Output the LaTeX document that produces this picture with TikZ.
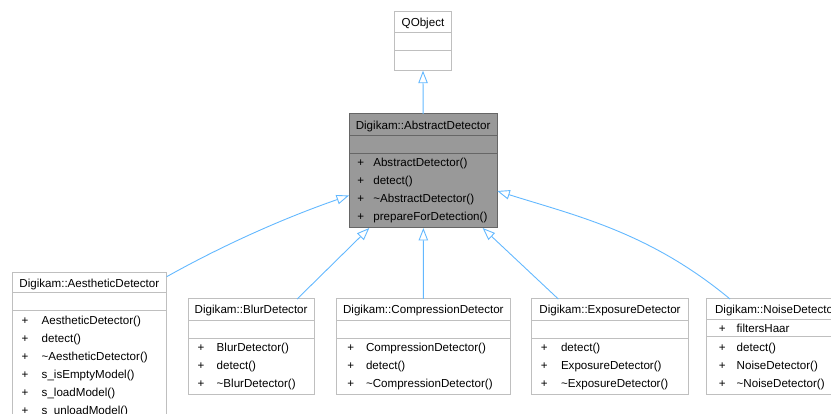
\documentclass[tikz,border=0pt]{standalone}
\usepackage{fontspec}
\setmainfont{Liberation Sans}
\usetikzlibrary{arrows.meta}
\definecolor{edgeblue}{HTML}{63B8FF}
\definecolor{boxborder}{HTML}{BFBFBF}
\definecolor{absfill}{HTML}{999999}
\definecolor{absborder}{HTML}{666666}
\tikzset{
  classbox/.style={draw=boxborder, line width=1pt, fill=white, inner sep=0pt, outer sep=0pt},
  absbox/.style={draw=absborder, line width=1pt, fill=absfill, inner sep=0pt, outer sep=0pt},
  sepline/.style={draw=boxborder, line width=1pt},
  abssep/.style={draw=absborder, line width=1pt},
  txt/.style={inner sep=0pt, outer sep=0pt, font=\fontsize{11.6}{14}\selectfont, text height=8.3pt, text depth=0pt},
  inherit/.style={draw=edgeblue, line width=0.9pt, -{Triangle[open, length=12.5pt, width=9.5pt]}}
}
\begin{document}
\begin{tikzpicture}[x=1pt, y=-1pt]
\useasboundingbox (0,0) rectangle (831,414);
\clip (0,0) rectangle (831,414);

% ---- QObject
\node[classbox, minimum width=57.4pt, minimum height=59pt] (qobj) at (423,41.2) {};
\draw[sepline] (qobj.west |- 0,32.7) -- (qobj.east |- 0,32.7);
\draw[sepline] (qobj.west |- 0,51) -- (qobj.east |- 0,51);
\node[txt] (qobjname) at (423,22.5) {QObject};

% ---- AbstractDetector
\node[absbox, minimum width=148.3pt, minimum height=114pt] (abs) at (423.15,171) {};
\draw[abssep] (abs.west |- 0,135.7) -- (abs.east |- 0,135.7);
\draw[abssep] (abs.west |- 0,154) -- (abs.east |- 0,154);
\node[txt] (absname) at (423.15,125) {Digikam::AbstractDetector};
\node[txt] (absp1) at (360.7,162.5) {+};
\node[txt, anchor=west] (absm1) at (373.3,162.5) {AbstractDetector()};
\node[txt] (absp2) at (360.7,180.5) {+};
\node[txt, anchor=west] (absm2) at (373.3,180.5) {detect()};
\node[txt] (absp3) at (360.7,198.5) {+};
\node[txt, anchor=west] (absm3) at (373.3,198.5) {\textasciitilde AbstractDetector()};
\node[txt] (absp4) at (360.7,216.5) {+};
\node[txt, anchor=west] (absm4) at (373.3,216.5) {prepareForDetection()};

% ---- AestheticDetector
\node[classbox, minimum width=154.7pt, minimum height=149.4pt] (aes) at (89.35,347) {};
\draw[sepline] (aes.west |- 0,292.3) -- (aes.east |- 0,292.3);
\draw[sepline] (aes.west |- 0,310.7) -- (aes.east |- 0,310.7);
\node[txt] (aesname) at (89.35,283) {Digikam::AestheticDetector};
\node[txt] (aesp1) at (25,320) {+};
\node[txt, anchor=west] (aesm1) at (41.7,320) {AestheticDetector()};
\node[txt] (aesp2) at (25,338) {+};
\node[txt, anchor=west] (aesm2) at (41.7,338) {detect()};
\node[txt] (aesp3) at (25,356) {+};
\node[txt, anchor=west] (aesm3) at (41.7,356) {\textasciitilde AestheticDetector()};
\node[txt] (aesp4) at (25,374) {+};
\node[txt, anchor=west] (aesm4) at (41.7,374) {s\_isEmptyModel()};
\node[txt] (aesp5) at (25,392) {+};
\node[txt, anchor=west] (aesm5) at (41.7,392) {s\_loadModel()};
\node[txt] (aesp6) at (25,410) {+};
\node[txt, anchor=west] (aesm6) at (41.7,410) {s\_unloadModel()};

% ---- BlurDetector
\node[classbox, minimum width=126.3pt, minimum height=96pt] (blur) at (251.15,347) {};
\draw[sepline] (blur.west |- 0,320.3) -- (blur.east |- 0,320.3);
\draw[sepline] (blur.west |- 0,338.3) -- (blur.east |- 0,338.3);
\node[txt] (blurname) at (251.15,309.7) {Digikam::BlurDetector};
\node[txt] (blurp1) at (201,347.5) {+};
\node[txt, anchor=west] (blurm1) at (216.7,347.5) {BlurDetector()};
\node[txt] (blurp2) at (201,365.5) {+};
\node[txt, anchor=west] (blurm2) at (216.7,365.5) {detect()};
\node[txt] (blurp3) at (201,383.5) {+};
\node[txt, anchor=west] (blurm3) at (216.7,383.5) {\textasciitilde BlurDetector()};

% ---- CompressionDetector
\node[classbox, minimum width=173.3pt, minimum height=96pt] (comp) at (423.35,347) {};
\draw[sepline] (comp.west |- 0,320.3) -- (comp.east |- 0,320.3);
\draw[sepline] (comp.west |- 0,338.3) -- (comp.east |- 0,338.3);
\node[txt] (compname) at (423.35,309.7) {Digikam::CompressionDetector};
\node[txt] (compp1) at (350.7,347.5) {+};
\node[txt, anchor=west] (compm1) at (366,347.5) {CompressionDetector()};
\node[txt] (compp2) at (350.7,365.5) {+};
\node[txt, anchor=west] (compm2) at (366,365.5) {detect()};
\node[txt] (compp3) at (350.7,383.5) {+};
\node[txt, anchor=west] (compm3) at (366,383.5) {\textasciitilde CompressionDetector()};

% ---- ExposureDetector
\node[classbox, minimum width=156.6pt, minimum height=96pt] (expo) at (610,347) {};
\draw[sepline] (expo.west |- 0,320.3) -- (expo.east |- 0,320.3);
\draw[sepline] (expo.west |- 0,338.3) -- (expo.east |- 0,338.3);
\node[txt] (exponame) at (610,309.7) {Digikam::ExposureDetector};
\node[txt] (expop1) at (544.3,347.5) {+};
\node[txt, anchor=west] (expom1) at (561,347.5) {detect()};
\node[txt] (expop2) at (544.3,365.5) {+};
\node[txt, anchor=west] (expom2) at (561,365.5) {ExposureDetector()};
\node[txt] (expop3) at (544.3,383.5) {+};
\node[txt, anchor=west] (expom3) at (561,383.5) {\textasciitilde ExposureDetector()};

% ---- NoiseDetector
\node[classbox, minimum width=140pt, minimum height=96pt] (noise) at (776,347) {};
\draw[sepline] (noise.west |- 0,320) -- (noise.east |- 0,320);
\draw[sepline] (noise.west |- 0,336.7) -- (noise.east |- 0,336.7);
\node[txt] (noisename) at (776,309.7) {Digikam::NoiseDetector};
\node[txt] (noisepa) at (722.3,328.5) {+};
\node[txt, anchor=west] (noisea) at (736.7,328.5) {filtersHaar};
\node[txt] (noisep1) at (722.3,347.5) {+};
\node[txt, anchor=west] (noisem1) at (736.7,347.5) {detect()};
\node[txt] (noisep2) at (722.3,365.5) {+};
\node[txt, anchor=west] (noisem2) at (736.7,365.5) {NoiseDetector()};
\node[txt] (noisep3) at (722.3,383.5) {+};
\node[txt, anchor=west] (noisem3) at (736.7,383.5) {\textasciitilde NoiseDetector()};

% ---- inheritance connectors
\draw[inherit] (abs.north) -- (qobj.south);
\draw[inherit] ([yshift=-4.4pt]aes.north east) .. controls (226.7,243.1) and (288.3,216.5) .. ([yshift=-24.5pt]abs.west);
\draw[inherit] ([xshift=46pt]blur.north) -- ([xshift=-53.85pt]abs.south);
\draw[inherit] (comp.north) -- ([xshift=0.2pt]abs.south);
\draw[inherit] ([xshift=-51.7pt]expo.north) -- ([xshift=59.5pt]abs.south);
\draw[inherit] ([xshift=-46pt]noise.north) .. controls (650,232.6) and (577,216) .. ([yshift=-20pt]abs.east);
\end{tikzpicture}
\end{document}
